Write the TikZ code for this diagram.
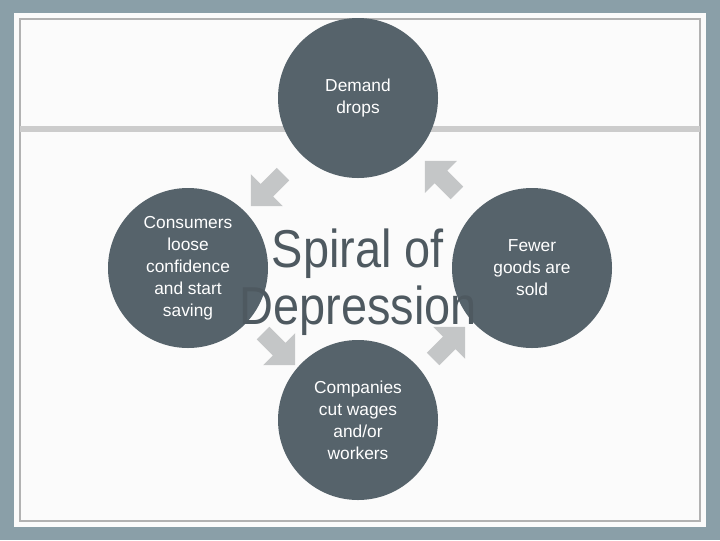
\documentclass[tikz,border=0pt]{standalone}
\usepackage{fontspec}
\setmainfont{Liberation Sans}
\usetikzlibrary{shapes.arrows}
\definecolor{frameblue}{HTML}{8A9FA8}
\definecolor{slate}{HTML}{56636B}
\definecolor{arrowgray}{HTML}{C4C6C7}

\begin{document}
\begin{tikzpicture}[x=0.75pt,y=-0.75pt,
        stage/.style={circle,fill=slate,text=white,minimum size=120pt,inner sep=0pt,
          align=center,font=\fontsize{13}{16.5}\selectfont},
        turn/.style={single arrow,fill=arrowgray,minimum height=34pt,minimum width=34pt,
          single arrow head extend=5pt,inner sep=3pt}]
        % slide background
        \fill[frameblue] (0,0) rectangle (720,540);
        \fill[white!97!gray] (14,13) rectangle (706,527);
        \draw[gray!60,line width=2pt] (20,19) rectangle (700,521);
        \fill[gray!40] (20,126) rectangle (700,132);
        \useasboundingbox (0,0) rectangle (720,540);

        \node[stage] (D) at (358,98)  {Demand\\drops};
        \node[stage] (F) at (532,268) {Fewer\\goods are\\sold};
        \node[stage] (C) at (358,420) {Companies\\cut wages\\and/or\\workers};
        \node[stage] (S) at (188,268) {Consumers\\loose\\confidence\\and start\\saving};

        \node[align=center,font=\fontsize{40}{43}\selectfont,text=slate!90!black,xscale=0.88]
          (title) at (358,282) {Spiral of\\Depression};

        \node[turn,rotate=225]  (a1) at (270,187) {};
        \node[turn,rotate=135]  (a2) at (444,180) {};
        \node[turn,rotate=45]   (a3) at (446,346) {};
        \node[turn,rotate=-45]  (a4) at (276,346) {};
\end{tikzpicture}
\end{document}
